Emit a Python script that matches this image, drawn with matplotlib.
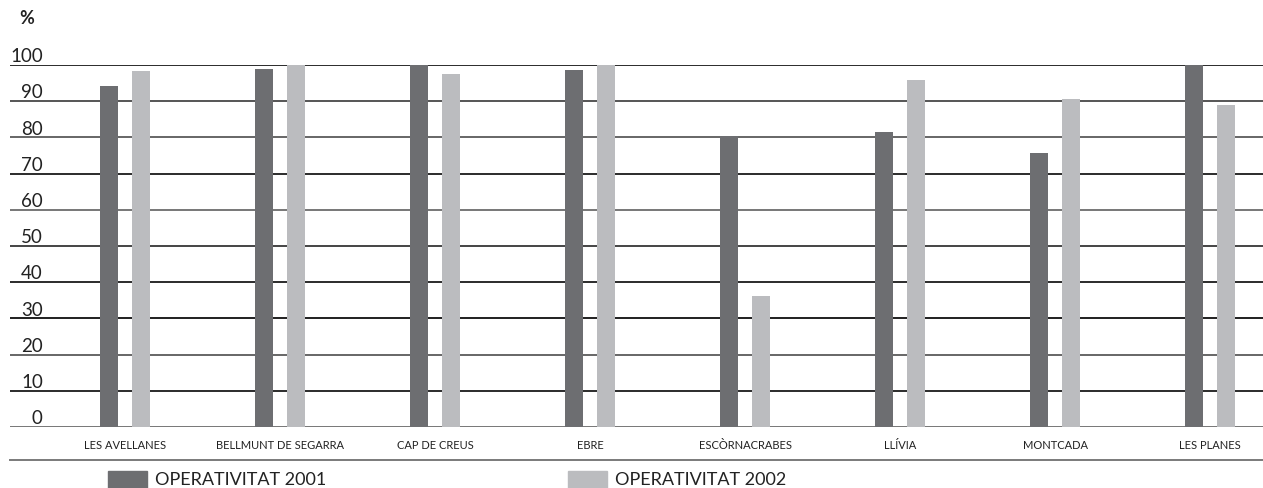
import numpy as np
import matplotlib
matplotlib.use("Agg")
from matplotlib import pyplot as plt
from matplotlib.patches import Rectangle

plt.rcParams['font.family'] = ['Lato', 'DejaVu Sans']

# data
categories = ['LES AVELLANES', 'BELLMUNT DE SEGARRA', 'CAP DE CREUS', 'EBRE',
              'ESCÒRNACRABES', 'LLÍVIA', 'MONTCADA', 'LES PLANES']
oper_2001 = [94.3, 98.8, 100, 98.5, 80.5, 81.5, 75.7, 100]
oper_2002 = [98.3, 100, 97.5, 100, 36.1, 95.8, 90.5, 89]
series_labels = ['OPERATIVITAT 2001', 'OPERATIVITAT 2002']
yticks = list(range(0, 101, 10))

dark = '#6d6e71'
light = '#bbbcbf'

W, H = 1263, 488
fig = plt.figure(figsize=(W / 100, H / 100), dpi=100)
ax = fig.add_axes([10 / W, (H - 427) / H, (W - 10) / W, (427 - 65) / H])

# gridlines, alternating dark / grey like the print
grid_cols = {100: '#2b2b2b', 90: '#555555', 80: '#666666', 70: '#2b2b2b',
             60: '#777777', 50: '#444444', 40: '#2b2b2b', 30: '#1f1f1f',
             20: '#666666', 10: '#2b2b2b', 0: '#777777'}
for v in yticks:
    ax.axhline(v, color=grid_cols[v], lw=1.4, zorder=1)
    ax.text(-0.53, v + 0.8, str(v), fontsize=13.5, ha='right', va='baseline',
            color='#222222')

x = np.arange(len(categories))
bw = 18 / 155
off = 16 / 155
ax.bar(x - off, oper_2001, width=bw, color=dark, zorder=2, clip_on=False)
ax.bar(x + off, oper_2002, width=bw, color=light, zorder=2, clip_on=False)

ax.set_xlim((10 - 125) / 155, (W - 125) / 155)
ax.set_ylim(0, 100)
ax.axis('off')

for i, c in enumerate(categories):
    ax.text(i, -5.2, c, fontsize=8, ha='center', va='center', color='#222222')

# bottom rule
fig.add_artist(plt.Line2D([10 / W, 1], [(H - 460) / H] * 2, color='#7a7a7a', lw=1.4))

fig.text(19 / W, (H - 19) / H, '%', fontsize=13, fontweight='bold', va='center',
         color='#222222')

# legend
for px, col, lab in [(108, dark, series_labels[0]), (568, light, series_labels[1])]:
    fig.add_artist(Rectangle((px / W, 0), 39 / W, (H - 471) / H,
                             transform=fig.transFigure, color=col))
    fig.text((px + 47) / W, (H - 480) / H, lab, fontsize=13, va='center',
             color='#222222')

fig.savefig('out.png', dpi=100)
